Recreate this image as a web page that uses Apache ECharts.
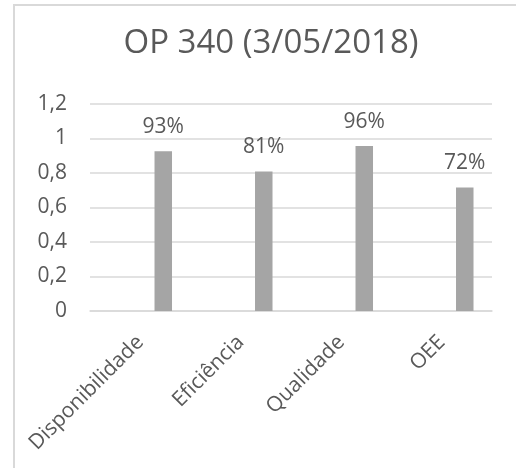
<!DOCTYPE html>
<html><head><meta charset="utf-8">
<script src="https://cdn.jsdelivr.net/npm/echarts@6/dist/echarts.min.js"></script>
<style>html,body{margin:0;padding:0;background:#fff}#c{width:516px;height:468px}</style>
</head><body><div id="c"></div>
<script>
const titleText = 'OP 340 (3/05/2018)';
const categories = ['Disponibilidade', 'Eficiência', 'Qualidade', 'OEE'];
const values = [0.926, 0.808, 0.956, 0.716];
const emptySeries = [null, null, null, null];
const yTicks = { min: 0, max: 1.2, interval: 0.2 };

const chart = echarts.init(document.getElementById('c'), null, { renderer: 'canvas' });
const txt = '#595959';
chart.setOption({
  animation: false,
  backgroundColor: '#fff',
  textStyle: { fontFamily: 'Open Sans' },
  title: {
    text: titleText, left: 266, top: 22, textAlign: 'center',
    textStyle: { fontFamily: 'Open Sans', fontSize: 33, fontWeight: 'normal', color: txt }
  },
  graphic: [{
    type: 'rect', silent: true,
    shape: { x: 14, y: 5, width: 520, height: 480 },
    style: { fill: 'none', stroke: '#d9d9d9', lineWidth: 2 }
  }],
  grid: { left: 90, right: 24, top: 104, bottom: 157, containLabel: false },
  xAxis: {
    type: 'category', data: categories,
    axisLine: { lineStyle: { color: '#d9d9d9', width: 1.5 } },
    axisTick: { show: false },
    axisLabel: { rotate: 45, fontSize: 21, color: txt, margin: 28, interval: 0, fontFamily: 'Open Sans' }
  },
  yAxis: {
    type: 'value', min: yTicks.min, max: yTicks.max, interval: yTicks.interval,
    axisLine: { show: false }, axisTick: { show: false },
    splitLine: { lineStyle: { color: '#d9d9d9', width: 1.5 } },
    axisLabel: {
      fontSize: 21, color: txt, margin: 23, fontFamily: 'Open Sans',
      formatter: v => String(Math.round(v * 10) / 10).replace('.', ',')
    }
  },
  series: [
    { type: 'bar', data: emptySeries, barWidth: 17.5, barGap: '163%' },
    {
      type: 'bar', data: values, barWidth: 17.5, barGap: '163%',
      itemStyle: { color: '#a5a5a5' },
      label: {
        show: true, position: 'top', distance: 14, fontSize: 21, color: txt, fontFamily: 'Open Sans',
        formatter: p => Math.round(p.value * 100) + '%'
      }
    }
  ]
});
</script></body></html>
